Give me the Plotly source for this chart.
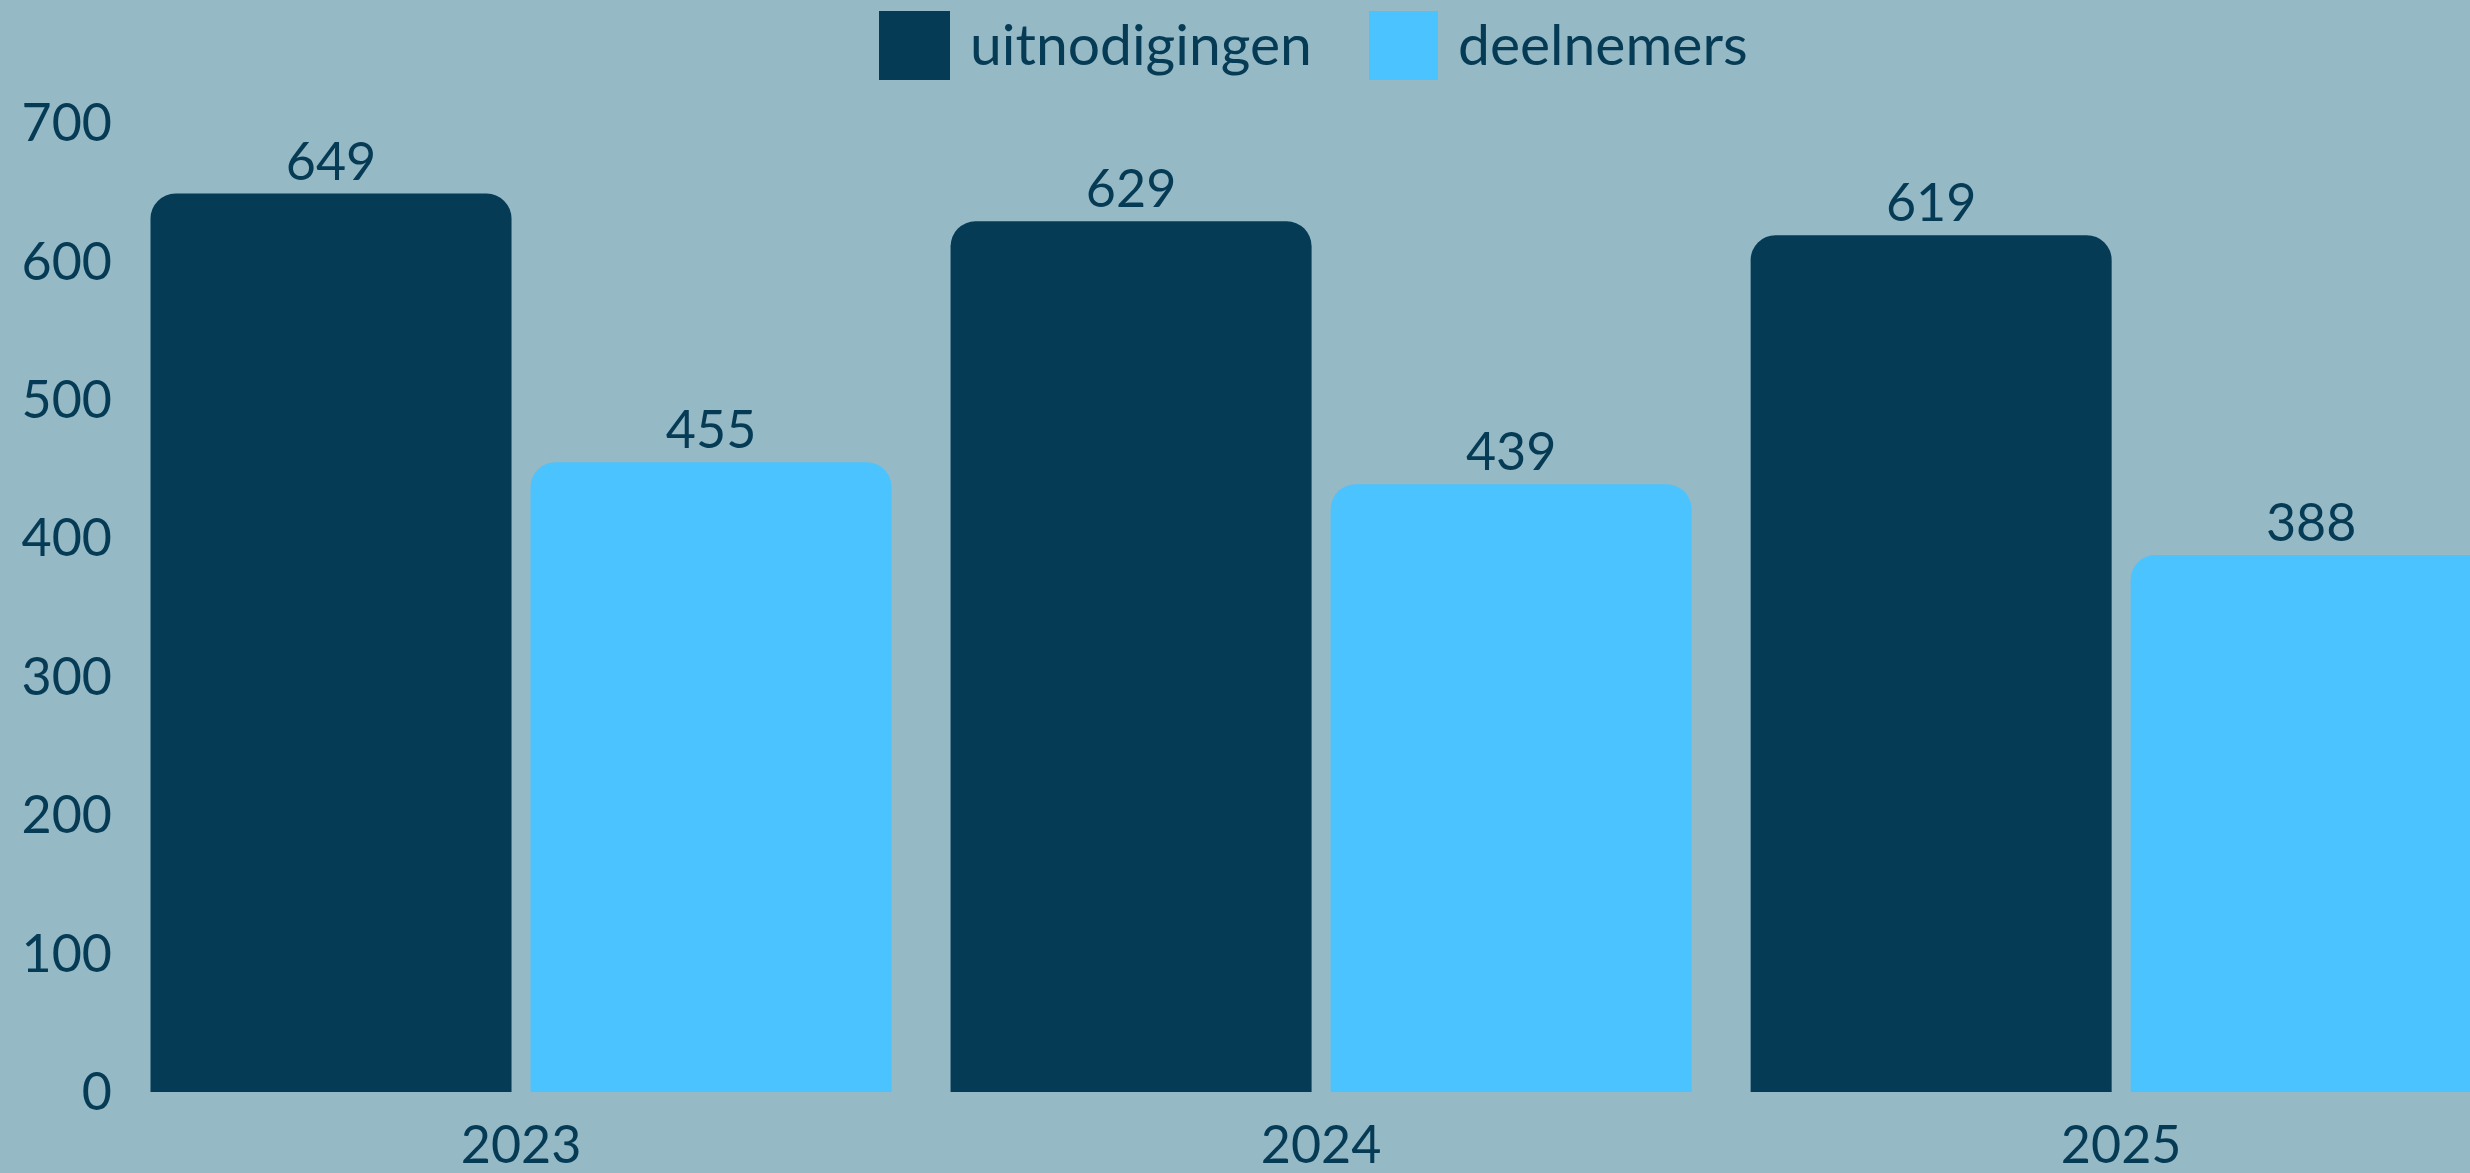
import plotly.graph_objects as go

years = ["2023", "2024", "2025"]
uitnodigingen = [649, 629, 619]
deelnemers = [455, 439, 388]
series_names = ["uitnodigingen", "deelnemers"]
y_ticks = [0, 100, 200, 300, 400, 500, 600, 700]

W, H = 2470, 1173
ML, MR, MT, MB = 121, 0, 123, 81
DARK = "#053b55"
LIGHT = "#4ac3ff"
BG = "#96b9c6"
FONT = "Lato"
FS = 52
FS_LEG = 57

fig = go.Figure()
for name, vals, col in [(series_names[0], uitnodigingen, DARK), (series_names[1], deelnemers, LIGHT)]:
    fig.add_trace(go.Bar(
        x=years, y=vals, name=name, marker=dict(color=col, line=dict(width=0)),
        text=[str(v) for v in vals], textposition="outside",
        textfont=dict(family=FONT, size=FS, color=DARK),
        cliponaxis=True, showlegend=False,
    ))

pw = W - ML - MR
ph = H - MT - MB
def px_x(x):
    return (x - ML) / pw
def px_y(y):
    return (H - MB - y) / ph

# legend drawn manually (big square swatches)
legend_items = [(series_names[0], DARK, 879, 950), (series_names[1], LIGHT, 1369, 1438)]
for name, col, x0, x1 in legend_items:
    fig.add_shape(type="rect", xref="paper", yref="paper",
                  x0=px_x(x0), x1=px_x(x1), y0=px_y(80), y1=px_y(11),
                  fillcolor=col, line=dict(width=0), layer="above")
    fig.add_annotation(xref="paper", yref="paper", x=px_x(x1 + 18), y=px_y(43),
                       xanchor="left", yanchor="middle", text=name, showarrow=False,
                       font=dict(family=FONT, size=FS_LEG, color=DARK))

fig.update_layout(
    width=W, height=H,
    margin=dict(l=ML, r=MR, t=MT, b=MB, pad=0),
    paper_bgcolor=BG, plot_bgcolor=BG,
    barmode="group", bargap=0.05, bargroupgap=0.05, barcornerradius=25,
    font=dict(family=FONT, size=FS, color=DARK),
    showlegend=False,
)
fig.update_xaxes(type="category", range=[-0.5, 2.436], showgrid=False, zeroline=False,
                 showline=False, ticks="", ticklabelstandoff=18,
                 tickfont=dict(family=FONT, size=FS, color=DARK))
fig.update_yaxes(range=[0, 700], tickvals=y_ticks, showgrid=False, zeroline=False,
                 showline=False, ticks="", ticklabelstandoff=8,
                 tickfont=dict(family=FONT, size=FS, color=DARK))

fig.write_html("out.html", config={"displayModeBar": False},
               post_script="document.body.style.margin='0';document.body.style.overflow='hidden';")
